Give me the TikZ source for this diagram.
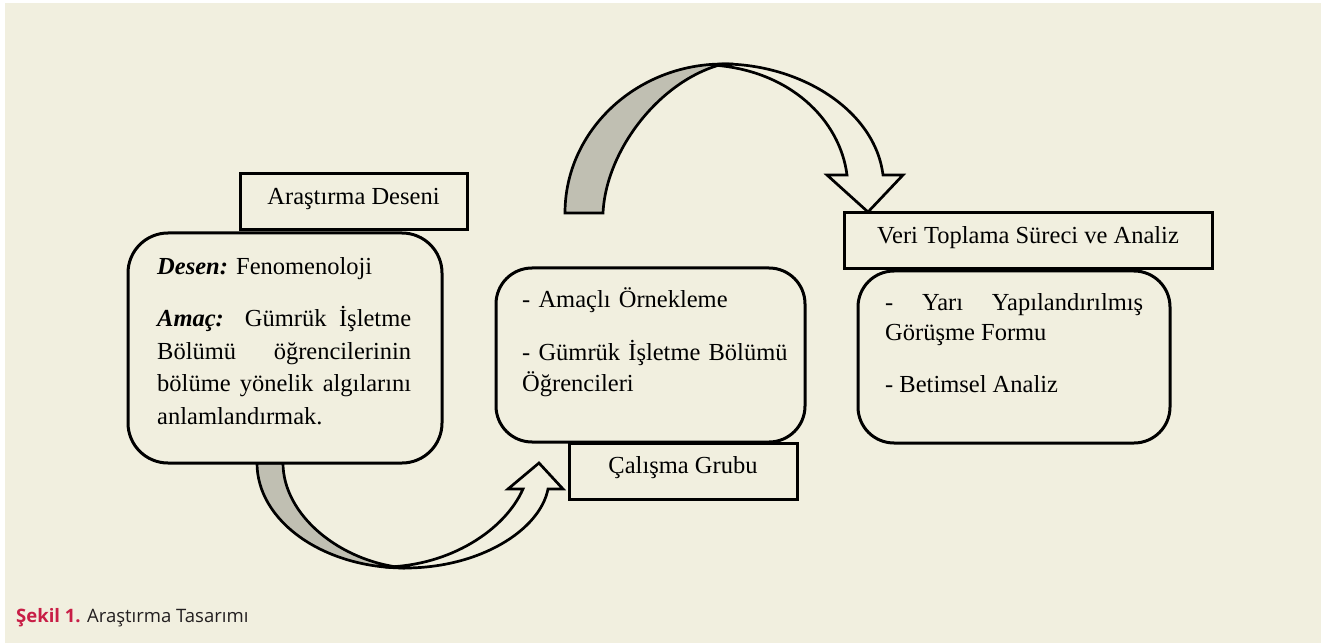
\documentclass[tikz,border=0pt]{standalone}
\usepackage{fontspec}
\setmainfont{Liberation Serif}
\newfontfamily\capfont{Open Sans}
\definecolor{bgcream}{RGB}{241,239,223}
\definecolor{bandgray}{RGB}{192,191,178}
\definecolor{capred}{RGB}{200,30,70}
\definecolor{captext}{RGB}{35,31,32}
\begin{document}
\begin{tikzpicture}[x=1pt,y=-1pt,
  arrowline/.style={draw=black, line width=2.7pt, line join=miter},
  rbox/.style={draw=black, line width=3pt, fill=bgcream, inner sep=0pt, rectangle, rounded corners=#1},
  hbox/.style={draw=black, line width=3pt, fill=bgcream, inner sep=0pt, rectangle,
    text height=14pt, text depth=9pt, font=\fontsize{24.5}{30}\selectfont},
  txt/.style={inner sep=0pt, anchor=base west}]
\useasboundingbox (0,0) rectangle (1322,644);
\fill[white] (0,0) rectangle (1322,644);
\fill[bgcream] (5,3) rectangle (1321,643);

% bottom curved arrow
\filldraw[arrowline, fill=bandgray] (257,463) .. controls (257,521) and (323,568) .. (405,568)
  .. controls (340,562) and (283,515) .. (283,463) -- cycle;
\filldraw[arrowline, fill=bgcream] (405,568) .. controls (480,568) and (540,530) .. (548,489)
  -- (563,489) -- (539,463) -- (508,489) -- (523,489)
  .. controls (505,530) and (450,566) .. (385,567) -- cycle;

% top curved arrow
\filldraw[arrowline, fill=bandgray] (565,213) .. controls (565,131) and (636,64) .. (723,64)
  .. controls (660,80) and (606,150) .. (603,213) -- cycle;
\filldraw[arrowline, fill=bgcream] (723,64) .. controls (800,64) and (875,110) .. (883,175)
  -- (903,175) -- (868,212) -- (827,175) -- (847,175)
  .. controls (840,120) and (790,70) .. (712,65) -- cycle;

% boxes
\node[rbox=40pt, minimum width=314pt, minimum height=230pt] (desbox) at (285,348) {};
\node[hbox, minimum width=227pt, minimum height=56pt] (deshead) at (353.5,202) {Araştırma Deseni};

\node[rbox=36pt, minimum width=309pt, minimum height=174pt] (grpbox) at (650.5,355) {};
\node[hbox, minimum width=228pt, minimum height=56pt] (grphead) at (683,471) {Çalışma Grubu};

\node[hbox, minimum width=368pt, minimum height=56pt] (verhead) at (1028,241) {Veri Toplama Süreci ve Analiz};
\node[rbox=36pt, minimum width=312pt, minimum height=172pt] (verbox) at (1014,357) {};

% texts
\node[txt, text width=254pt, align=justify, font=\fontsize{24.5}{32.5}\selectfont] (destext) at (157,275)
  {\hyphenpenalty=10000
   \textbf{\textit{Desen:}} Fenomenoloji\par\vspace{19.5pt}
   \textbf{\textit{Amaç:}} Gümrük İşletme\linebreak Bölümü öğrencilerinin\linebreak bölüme yönelik algılarını\linebreak anlamlandırmak.};

\node[txt, text width=280pt, align=left, font=\fontsize{24.5}{32}\selectfont] (grptext) at (522,308)
  {- Amaçlı Örnekleme\\[20pt]
   - Gümrük İşletme Bölümü\\
   Öğrencileri};

\node[txt, text width=258pt, align=justify, font=\fontsize{24.5}{30}\selectfont] (vertext) at (885,310)
  {\hyphenpenalty=10000
   - Yarı Yapılandırılmış\linebreak Görüşme Formu\par\vspace{22pt}
   - Betimsel Analiz};

% caption
\node[txt, font=\capfont\fontsize{18.5}{22}\selectfont] (caption) at (16,622)
  {\textcolor{capred}{\bfseries Şekil 1.} \textcolor{captext}{Araştırma Tasarımı}};
\end{tikzpicture}
\end{document}
